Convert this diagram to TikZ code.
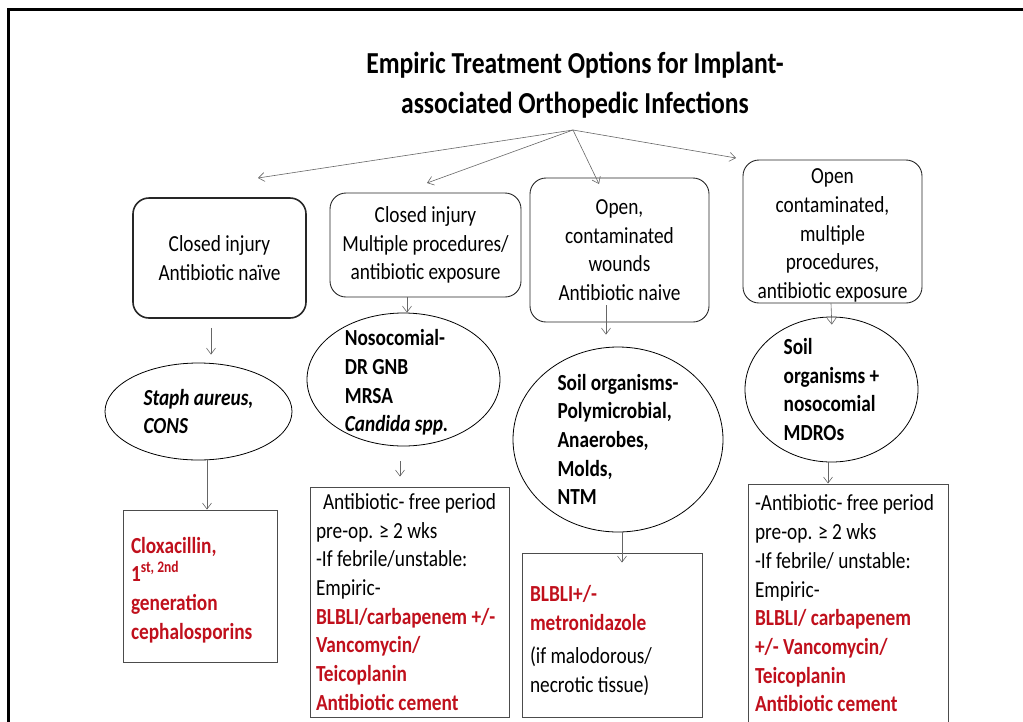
\documentclass[tikz,border=0pt]{standalone}
\usepackage{fontspec}
\setmainfont{Carlito}[FakeStretch=0.84]
\usetikzlibrary{shapes.geometric}
\usetikzlibrary{arrows.meta}

\definecolor{drugred}{RGB}{192,16,28}
\newcommand{\bodyfont}{\fontsize{23}{28.7}\selectfont}
\newcommand{\drug}[1]{\textcolor{drugred}{\bfseries #1}}

\begin{document}
\begin{tikzpicture}[x=1pt,y=-1pt,
		casebox/.style={draw=black!85, rounded corners=16pt, line width=0.9pt, align=center, inner sep=0pt, font=\bodyfont},
		bugoval/.style={draw, ellipse, line width=0.8pt, align=flush left, inner sep=-30pt, font=\bodyfont\bfseries},
		drugbox/.style={draw=black!70, line width=1pt, align=flush left, inner xsep=7pt, inner ysep=0pt, font=\bodyfont},
		arr/.style={draw=black!60, line width=0.6pt, -{Straight Barb[length=6pt,width=9pt]}}]
	\clip (0,0) rectangle (1023,721);
	% frame of the slide
	\draw[line width=3pt] (8,722) -- (8,9) -- (1023,9);
	\node[font=\fontsize{30.5}{40}\selectfont\bfseries, align=center, inner sep=0pt] (title) at (575,85) {Empiric Treatment Options for Implant-\\associated Orthopedic Infections};
	\coordinate (hub) at (573,130);
	\coordinate (toA) at (258,178);
	\coordinate (toB) at (427,183);
	\coordinate (toC) at (599,184);
	\coordinate (toD) at (736,158);
	% kinds of injury
	\node[casebox, line width=1.6pt, minimum width=173pt, minimum height=120pt] (naive) at (219.5,258) {Closed injury\\Antibiotic naïve};
	\node[casebox, minimum width=191pt, minimum height=104pt] (exposed) at (425.5,245) {Closed injury\\Multiple procedures/\\antibiotic exposure};
	\node[casebox, minimum width=179pt, minimum height=144pt] (openwound) at (619.5,250) {Open,\\contaminated\\wounds\\Antibiotic naive};
	\node[casebox, minimum width=179pt, minimum height=143pt] (openmulti) at (832.5,231.5) {\rule{0pt}{23pt}Open\\contaminated,\\multiple\\procedures,\\antibiotic exposure};
	% organisms
	\node[bugoval, minimum width=187pt, minimum height=97pt] (staph) at (198.5,411.5) {\textit{Staph aureus,}\\\textit{CONS}};
	\node[bugoval, minimum width=193pt, minimum height=133pt] (noso) at (403.5,379.5) {\rule{0pt}{22pt}Nosocomial-\\DR GNB\\MRSA\\\textit{Candida spp.}\hspace*{14pt}};
	\node[bugoval, minimum width=210pt, minimum height=185pt] (soil) at (618,439.5) {Soil organisms-\\Polymicrobial,\\Anaerobes,\\Molds,\\NTM};
	\node[bugoval, minimum width=173pt, minimum height=145pt] (soilmdro) at (831.5,389.5) {Soil\\organisms +\\nosocomial\\MDROs};
	% treatment
	\node[drugbox, inner xsep=8pt, text width=138pt, minimum height=152pt] (staphrx) at (200,586) {\rule{0pt}{24pt}\drug{Cloxacillin,}\\\drug{1\textsuperscript{st, 2nd}}\\\drug{generation}\\\drug{cephalosporins}};
	\node[drugbox, inner xsep=6pt, text width=187pt, minimum height=230pt] (nosorx) at (409.5,602) {\hspace*{7pt}Antibiotic- free period\\pre-op. ≥ 2 wks\\-If febrile/unstable:\\Empiric-\\\drug{BLBLI/carbapenem +/-}\\\drug{Vancomycin/}\\\drug{Teicoplanin}\\\drug{Antibiotic cement}};
	\node[drugbox, inner xsep=8pt, text width=164pt, minimum height=164pt] (soilrx) at (612,635) {\rule{0pt}{27pt}\drug{BLBLI+/-}\\\drug{metronidazole}\\[5pt](if malodorous/\\necrotic tissue)};
	\node[drugbox, text width=186pt, minimum height=239pt] (mdrorx) at (848,603.5) {-Antibiotic- free period\\pre-op. ≥ 2 wks\\-If febrile/ unstable:\\Empiric-\\\drug{BLBLI/ carbapenem}\\\drug{+/- Vancomycin/}\\\drug{Teicoplanin}\\\drug{Antibiotic cement}};
	% connectors
	\draw[arr] (hub) -- (toA);
	\draw[arr] (hub) -- (toB);
	\draw[arr] (hub) -- (toC);
	\draw[arr] (hub) -- (toD);
	\draw[arr, shorten <=9pt, shorten >=8pt] ([xshift=-8.5pt]naive.south) -- ([xshift=12.5pt]staph.north);
	\draw[arr] ([xshift=-18.5pt]exposed.south) -- ([xshift=3.5pt]noso.north);
	\draw[arr, shorten <=-17pt, shorten >=12pt] ([xshift=-13.5pt]openwound.south) -- ([xshift=-12pt]soil.north);
	\draw[arr, shorten >=-8pt] ([xshift=-1.5pt]openmulti.south) -- (soilmdro.north);
	\draw[arr] ([xshift=8.5pt]staph.south) -- ([xshift=7pt]staphrx.north);
	\draw[arr, shorten <=15pt, shorten >=10pt] ([xshift=-3.5pt]noso.south) -- ([xshift=-9.5pt]nosorx.north);
	\draw[arr, shorten >=-10pt] ([xshift=4pt]soil.south) -- ([xshift=10pt]soilrx.north);
	\draw[arr] ([xshift=-3.5pt]soilmdro.south) -- ([xshift=-20pt]mdrorx.north);
\end{tikzpicture}
\end{document}
